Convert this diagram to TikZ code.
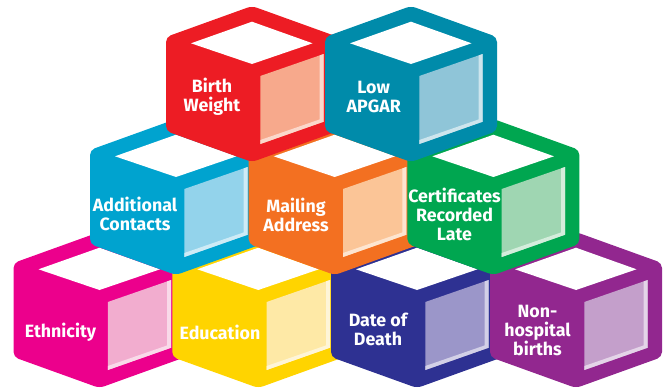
\documentclass[tikz,border=0pt]{standalone}
\usepackage{fontspec}
\setmainfont{Fira Sans}
\definecolor{cRed}{HTML}{ED1C24}\definecolor{lRed}{HTML}{F7A98C}
\definecolor{cTeal}{HTML}{008BAA}\definecolor{lTeal}{HTML}{8FC5D8}
\definecolor{cBlue}{HTML}{00A3CF}\definecolor{lBlue}{HTML}{93D3EB}
\definecolor{cOrange}{HTML}{F37021}\definecolor{lOrange}{HTML}{FBC597}
\definecolor{cGreen}{HTML}{00A650}\definecolor{lGreen}{HTML}{9FD6B2}
\definecolor{cMag}{HTML}{EC008C}\definecolor{lMag}{HTML}{F2ADCF}
\definecolor{cYel}{HTML}{FFD400}\definecolor{lYel}{HTML}{FEE9A6}
\definecolor{cNavy}{HTML}{2E3192}\definecolor{lNavy}{HTML}{9B96C9}
\definecolor{cPurp}{HTML}{92278F}\definecolor{lPurp}{HTML}{C49FCB}
\newcommand\drawcube[4]{%
  \fill[#3, rounded corners=5pt] (#1,#2) -- (#1+86,#2+31) -- (#1+86,#2+125) -- (#1,#2+156) -- (#1-86,#2+125) -- (#1-86,#2+31) -- cycle;
  \fill[white] (#1,#2+15.7) -- (#1+60.5,#2+37.3) -- (#1,#2+58) -- (#1-61,#2+37.3) -- cycle;
  \fill[#4] (#1+8.3,#2+70) -- (#1+71.7,#2+48) -- (#1+71.7,#2+115.7) -- (#1+8.3,#2+138) -- cycle;
  \fill[#4!45!white] (#1+71.7,#2+48) -- (#1+71.7,#2+115.7) -- (#1+8.3,#2+138) -- (#1+8.3,#2+134) -- (#1+67.7,#2+113.4) -- (#1+67.7,#2+49.4) -- cycle;
}
\tikzset{label/.style={text=white, font=\bfseries\fontsize{17.8}{19}\selectfont, align=center, inner sep=0pt}}
\begin{document}
\begin{tikzpicture}[x=1pt,y=-1pt]
\useasboundingbox (0,0) rectangle (664,391);
% row 3
\drawcube{99.5}{232}{cMag}{lMag}
\node[label] (eth) at (60.5,332) {Ethnicity};
\drawcube{258.3}{232}{cYel}{lYel}
\node[label] (edu) at (220,332) {Education};
\drawcube{417}{232}{cNavy}{lNavy}
\node[label] (dod) at (378,329.5) {Date of\\Death};
\drawcube{576}{232}{cPurp}{lPurp}
\node[label] (nhb) at (537.5,330) {Non-\\hospital\\births};
% row 2
\drawcube{176}{119}{cBlue}{lBlue}
\node[label] (add) at (135,214) {Additional\\Contacts};
\drawcube{334.7}{119}{cOrange}{lOrange}
\node[label] (mail) at (296,214.5) {Mailing\\Address};
\drawcube{493.4}{119}{cGreen}{lGreen}
\node[label] (cert) at (454.5,214.5) {Certificates\\Recorded\\Late};
% row 1
\drawcube{252}{6}{cRed}{lRed}
\node[label] (bw) at (212,96.5) {Birth\\Weight};
\drawcube{411}{6}{cTeal}{lTeal}
\node[label] (apgar) at (373.7,96.8) {Low\\APGAR};
\end{tikzpicture}
\end{document}
